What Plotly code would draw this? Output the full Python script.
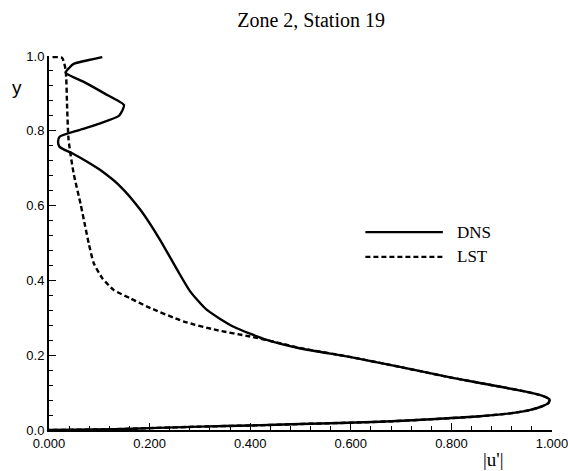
import plotly.graph_objects as go

# DNS profile of |u'| versus y (traced from top of the domain to the wall)
dns_u = [0.106, 0.075, 0.049, 0.040, 0.033, 0.070, 0.110, 0.149, 0.145, 0.139,
         0.102, 0.060, 0.021, 0.018, 0.021, 0.046, 0.075, 0.102, 0.142, 0.182,
         0.221, 0.255, 0.281, 0.314, 0.367, 0.433, 0.500, 0.600,
         0.700, 0.800, 0.900, 0.950, 0.980, 0.995, 0.993, 0.980, 0.955, 0.920,
         0.850, 0.750, 0.658, 0.500, 0.400, 0.300, 0.200, 0.130, 0.050, 0.000]
dns_y = [0.997, 0.988, 0.979, 0.968, 0.955, 0.930, 0.900, 0.869, 0.852, 0.840,
         0.820, 0.802, 0.784, 0.770, 0.757, 0.740, 0.718, 0.695, 0.651, 0.588,
         0.508, 0.428, 0.370, 0.321, 0.276, 0.241, 0.218, 0.195,
         0.168, 0.140, 0.115, 0.102, 0.092, 0.082, 0.072, 0.063, 0.053, 0.045,
         0.036, 0.028, 0.022, 0.016, 0.012, 0.009, 0.005, 0.002, 0.0005, 0.000]

# Linear stability theory profile
lst_u = [0.007, 0.026, 0.033, 0.036, 0.039, 0.049, 0.063, 0.072, 0.079, 0.089,
         0.106, 0.129, 0.162, 0.195, 0.268, 0.334, 0.400, 0.466, 0.500, 0.600,
         0.700, 0.800, 0.900, 0.950, 0.980, 0.995, 0.993, 0.980, 0.955, 0.920,
         0.850, 0.750, 0.658, 0.500, 0.400, 0.300, 0.200, 0.130, 0.050, 0.000]
lst_y = [0.997, 0.995, 0.963, 0.864, 0.775, 0.686, 0.603, 0.544, 0.499, 0.446,
         0.406, 0.374, 0.352, 0.330, 0.290, 0.267, 0.250, 0.230, 0.219, 0.195,
         0.168, 0.140, 0.115, 0.102, 0.092, 0.082, 0.072, 0.063, 0.053, 0.045,
         0.036, 0.028, 0.022, 0.016, 0.012, 0.009, 0.005, 0.002, 0.0005, 0.000]

x_ticks = [0.0, 0.2, 0.4, 0.6, 0.8, 1.0]
y_ticks = [0.0, 0.2, 0.4, 0.6, 0.8, 1.0]

SERIF = "Liberation Serif, Times New Roman, serif"
SANS = "Liberation Sans, Arial, sans-serif"

fig = go.Figure()
fig.add_trace(go.Scatter(x=dns_u, y=dns_y, mode="lines", name="DNS",
                         line=dict(color="black", width=2.4, shape="spline", smoothing=0.6)))
fig.add_trace(go.Scatter(x=lst_u, y=lst_y, mode="lines", name="LST",
                         line=dict(color="black", width=2.4, dash="5px,3px",
                                   shape="spline", smoothing=0.6)))

axis_common = dict(
    showgrid=False, zeroline=False, showline=True, linecolor="black",
    linewidth=2, ticks="inside", ticklen=7, tickwidth=1.3, tickcolor="black",
    tickfont=dict(family=SANS, size=13, color="black"),
    ticklabeloverflow="allow", automargin=False,
    minor=dict(ticks="inside", ticklen=4, tickwidth=1, tickcolor="black", dtick=0.04),
)

fig.update_xaxes(range=[0, 1.0], tickvals=x_ticks, tickformat=".3f", **axis_common)
fig.update_yaxes(range=[0, 1.0], tickvals=y_ticks, tickformat=".1f", **axis_common)

# Hand-drawn legend keys
fig.add_shape(type="line", xref="paper", yref="paper", x0=0.629, x1=0.783,
              y0=0.529, y1=0.529, line=dict(color="black", width=2.4))
fig.add_shape(type="line", xref="paper", yref="paper", x0=0.629, x1=0.783,
              y0=0.463, y1=0.463, line=dict(color="black", width=2.4, dash="5px,3px"))

annotations = [
    dict(text="DNS", x=0.807, y=0.529, xanchor="left", yanchor="middle", size=17),
    dict(text="LST", x=0.807, y=0.463, xanchor="left", yanchor="middle", size=17),
    dict(text="|u'|", x=0.883, y=-0.080, xanchor="center", yanchor="middle", size=19),
]
for a in annotations:
    size = a.pop("size")
    fig.add_annotation(xref="paper", yref="paper", showarrow=False,
                       font=dict(family=SERIF, size=size, color="black"), **a)

fig.add_annotation(text="y", xref="paper", yref="paper", x=-0.0645, y=0.915,
                   xanchor="center", yanchor="middle", showarrow=False,
                   font=dict(family=SANS, size=19, color="black"))

fig.update_layout(
    width=568, height=471,
    margin=dict(l=48.5, r=16, t=56, b=41, autoexpand=False),
    paper_bgcolor="white", plot_bgcolor="white",
    showlegend=False,
    title=dict(text="Zone 2, Station 19", x=0.521, xref="paper", xanchor="center",
               y=1 - 20 / 471, yanchor="middle",
               font=dict(family=SERIF, size=20, color="black")),
)

fig.write_html("out.html")
